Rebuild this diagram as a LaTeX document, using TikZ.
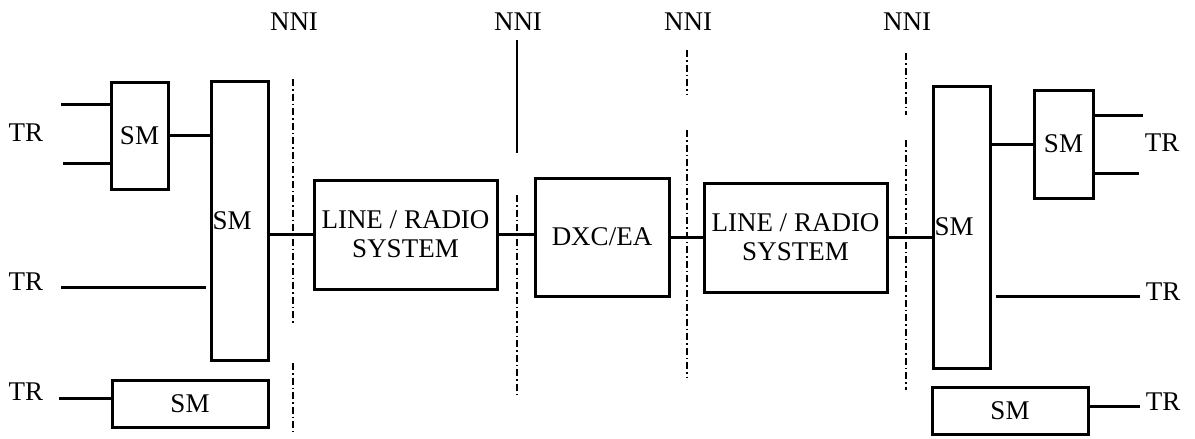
\documentclass[tikz,border=0pt]{standalone}
\usepackage{fontspec}
\setmainfont{Liberation Serif}
\usetikzlibrary{positioning}
\tikzset{
  smbox/.style={draw, line width=3pt, inner sep=0pt, align=center},
  link/.style={line width=3pt},
  nniline/.style={line width=1.4pt, dash pattern=on 7pt off 3pt on 1.5pt off 3pt},
}

\begin{document}
\begin{tikzpicture}[x=1pt, y=-1pt, font=\fontsize{27}{29}\selectfont]
\useasboundingbox (0,0) rectangle (1195,439);
% left side
\node[smbox, minimum width=57pt, minimum height=107pt] (smA) at (139.5,135.5) {SM};
\node[smbox, minimum width=57pt, minimum height=279pt,
  label={[anchor=west, inner sep=3pt]west:SM}] (bigA) at (239.5,220.5) {};
\node[smbox, minimum width=156pt, minimum height=47pt] (smB) at (190,403.5) {SM};
\node (trA) at (26,133) {TR};
\node (trB) at (26,282) {TR};
\node (trC) at (26,392) {TR};
\coordinate (inA1) at (61,104);
\coordinate (inA2) at (63,163);
\coordinate (inB) at (61,287);
\coordinate (inC) at (59,398);
% middle
\node[smbox, minimum width=183pt, minimum height=109pt] (lrA) at (405.5,234.5) {LINE / RADIO\\SYSTEM};
\node[smbox, minimum width=134pt, minimum height=118pt] (dxc) at (602,237) {DXC/EA};
\node[smbox, minimum width=183pt, minimum height=109pt] (lrB) at (795.5,237.5) {LINE / RADIO\\SYSTEM};
% right side
\node[smbox, minimum width=57pt, minimum height=282pt,
  label={[anchor=west, inner sep=3pt]west:SM}] (bigB) at (961.5,227) {};
\node[smbox, minimum width=59pt, minimum height=108pt] (smC) at (1063.5,144) {SM};
\node[smbox, minimum width=156pt, minimum height=47pt] (smD) at (1010,410.5) {SM};
\node (trD) at (1162,143) {TR};
\node (trE) at (1163,292) {TR};
\node (trF) at (1163,402) {TR};
\coordinate (outC1) at (1143,115);
\coordinate (outC2) at (1139,173);
\coordinate (outE) at (1140,296);
\coordinate (outF) at (1140,406);

% NNI boundaries
\foreach \x/\a/\b/\c/\d/\s [count=\i] in {293/79/325/363/432/nniline, 517/40/153/195/395/solid,
    687/50/95/130/378/nniline, 906/53/115/140/390/nniline} {
  \node (nni\i) at (\x+1,22) {NNI};
  \draw[nniline, \s] (\x,\a) -- (\x,\b);
  \draw[nniline] (\x,\c) -- (\x,\d);
}

% links
\draw[link] (inA1) -- (inA1 -| smA.west);
\draw[link] (inA2) -- (inA2 -| smA.west);
\draw[link] (smA.east) -- (smA.east -| bigA.west);
\draw[link] (inB) -- ([xshift=-4pt]inB -| bigA.west);
\draw[link] (inC) -- (inC -| smB.west);
\draw[link] (bigA.east |- lrA.west) -- (lrA.west);
\draw[link] (lrA.east) -- (lrA.east -| dxc.west);
\draw[link] (dxc.east) -- (dxc.east -| lrB.west);
\draw[link] (lrB.east) -- (lrB.east -| bigB.west);
\draw[link] (smC.west -| bigB.east) -- (smC.west);
\draw[link] (outC1 -| smC.east) -- (outC1);
\draw[link] (outC2 -| smC.east) -- (outC2);
\draw[link] ([xshift=4pt]outE -| bigB.east) -- (outE);
\draw[link] (smD.east |- outF) -- (outF);
\end{tikzpicture}
\end{document}
